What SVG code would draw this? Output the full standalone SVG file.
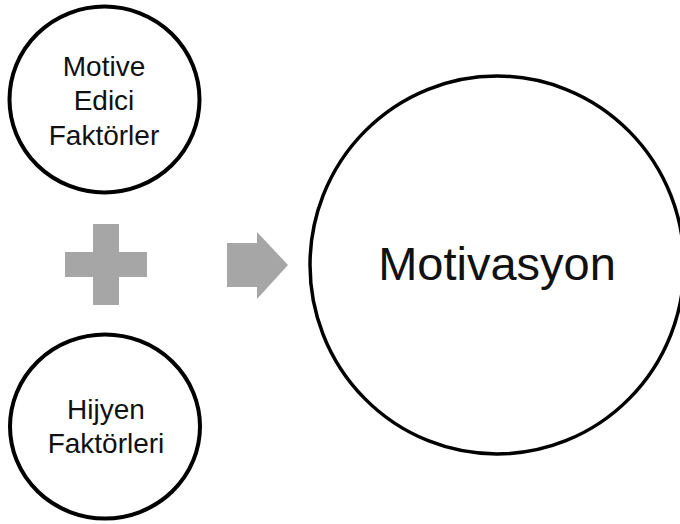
<svg xmlns="http://www.w3.org/2000/svg" width="680" height="524" viewBox="0 0 680 524">
<style>
.c{fill:#fff;stroke:#000;stroke-width:4}
.t{font-family:"Liberation Sans","Noto Sans",sans-serif;fill:#111;text-anchor:middle}
.g{fill:#a6a6a6}
</style>
<rect width="680" height="524" fill="#fff"/>
<g id="motive">
<ellipse class="c" cx="104.5" cy="99.5" rx="95" ry="93"/>
<text class="t" font-size="28" x="104" y="76">Motive</text>
<text class="t" font-size="28" x="104" y="110">Edici</text>
<text class="t" font-size="28" x="104" y="145">Faktörler</text>
</g>
<g id="hijyen">
<ellipse class="c" cx="105" cy="426.5" rx="95" ry="92"/>
<text class="t" font-size="28" x="106" y="419">Hijyen</text>
<text class="t" font-size="28" x="106" y="453">Faktörleri</text>
</g>
<g id="motivasyon">
<ellipse class="c" cx="497" cy="265" rx="187" ry="189" style="stroke-width:3.5"/>
<text class="t" font-size="47" x="497" y="280">Motivasyon</text>
</g>
<g id="connectors">
<path id="plus" class="g" d="M93 224H119V252H147V277H119V305H93V277H65V252H93Z"/>
<path id="arrow" class="g" d="M227 243H257V232L288 265L257 299V287H227Z"/>
</g>
</svg>
